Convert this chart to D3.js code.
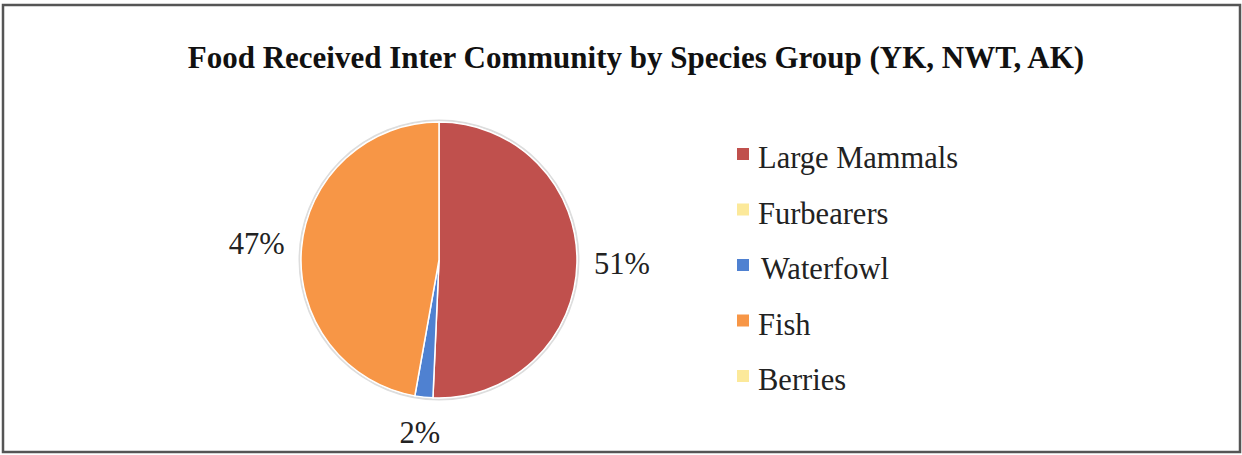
<!DOCTYPE html>
<html><head><meta charset="utf-8">
<script src="https://cdn.jsdelivr.net/npm/d3@7"></script>
<style>html,body{margin:0;padding:0;background:#fff;}svg{display:block;}text{font-family:"Liberation Serif","Times New Roman",Times,serif;}</style>
</head><body>
<svg id="c" width="1242" height="455"></svg>
<script>
const categories = ["Large Mammals", "Furbearers", "Waterfowl", "Fish", "Berries"];
const values = [50.7, 0, 2.1, 47.2, 0];
const labels = ["51%", "", "2%", "47%", ""];
const colors = ["#C0504D", "#FCE99A", "#4F81D1", "#F79646", "#FCE99A"];
const title = "Food Received Inter Community by Species Group (YK, NWT, AK)";

const svg = d3.select("#c");
const W = 1242, H = 455;

// frame
svg.append("rect").attr("x", 3).attr("y", 5).attr("width", W - 5).attr("height", H - 8)
  .attr("fill", "#fff").attr("stroke", "#555").attr("stroke-width", 2.5);

svg.append("text").attr("x", 636).attr("y", 68).attr("text-anchor", "middle")
  .attr("font-weight", "bold").attr("font-size", 31)
  .attr("fill", "#111").text(title);

const cx = 439, cy = 260, r = 138;
const data = categories.map((c, i) => ({cat: c, value: values[i], label: labels[i], color: colors[i]}));
const pie = d3.pie().sort(null).value(d => d.value);
const arcs = pie(data);
const arc = d3.arc().innerRadius(0).outerRadius(r);
const g = svg.append("g").attr("transform", `translate(${cx},${cy})`);

g.append("circle").attr("r", r + 1.5).attr("fill", "none").attr("stroke", "#ddd").attr("stroke-width", 2);
g.selectAll("path").data(arcs.filter(d => d.data.value > 0)).join("path")
  .attr("d", arc).attr("fill", d => d.data.color)
  .attr("stroke", "#fff").attr("stroke-width", 1.5);

function labelPos(d) {
  const mid = (d.startAngle + d.endAngle) / 2;
  const R = r + 35 + 10 * Math.abs(Math.sin(mid));
  return [cx + R * Math.sin(mid), cy - R * Math.cos(mid)];
}
svg.selectAll("text.lbl").data(arcs.filter(d => d.data.label)).join("text")
  .attr("class", "lbl")
  .attr("x", d => labelPos(d)[0])
  .attr("y", d => labelPos(d)[1] + 10)
  .attr("text-anchor", "middle")
  .attr("font-size", 30.5).attr("fill", "#222")
  .text(d => d.data.label);

const legY = d3.scalePoint().domain(categories).range([168, 390]);
const leg = svg.append("g");
categories.forEach((c, i) => {
  const y = legY(c);
  leg.append("rect").attr("x", 737).attr("y", y - 20).attr("width", 12).attr("height", 12).attr("fill", colors[i]);
  leg.append("text").attr("x", i === 2 ? 761 : 758).attr("y", y)
    .attr("font-size", 30.5).attr("fill", "#222").text(c);
});
</script>
</body></html>
